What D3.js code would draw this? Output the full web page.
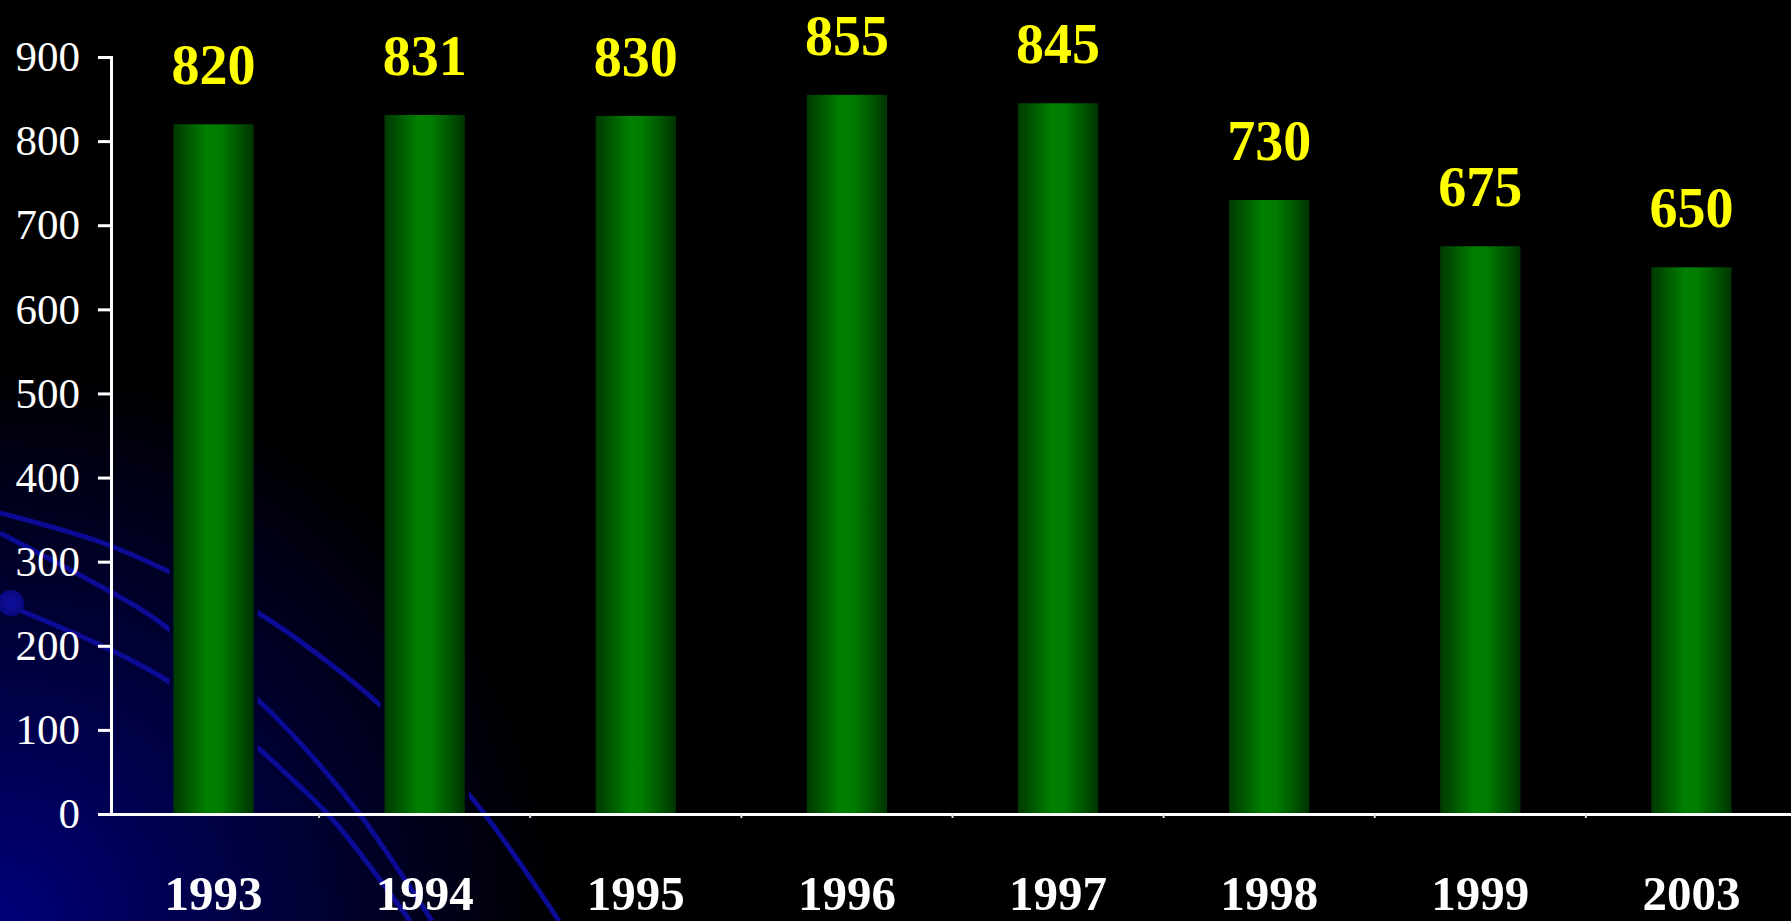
<!DOCTYPE html>
<html>
<head>
<meta charset="utf-8">
<script src="https://cdn.jsdelivr.net/npm/d3@7"></script>
<style>
  body { margin: 0; background: #000; overflow: hidden; }
  svg { display: block; }
</style>
</head>
<body>
<div id="chart"></div>
<script>
//chart data
const years = ["1993", "1994", "1995", "1996", "1997", "1998", "1999", "2003"];
const values = [820, 831, 830, 855, 845, 730, 675, 650];
const yTicks = [0, 100, 200, 300, 400, 500, 600, 700, 800, 900];

//background decoration (slide swooshes)
const swooshes = [
  [[0, 513], [103, 543], [170, 572], [258, 613], [329, 663], [380, 705], [471, 797], [559, 921]],
  [[0, 533], [142, 610], [170, 630], [258, 700], [318, 763], [364, 820], [432, 921]],
  [[19, 610], [96, 643], [153, 672], [214, 712], [258, 748], [279, 767], [333, 820], [410, 921]]
];

const width = 1791;
const height = 921;

const svg = d3.select("#chart")
  .append("svg")
  .attr("width", width)
  .attr("height", height);

const defs = svg.append("defs");

//scales
const x = d3.scaleBand()
  .domain(years)
  .range([108, 1797])
  .paddingInner(0.62)
  .paddingOuter(0.31);

const y = d3.scaleLinear()
  .domain([0, 900])
  .range([814, 57]);

//blue glow bottom-left
const glow = defs.append("radialGradient")
  .attr("id", "glow")
  .attr("gradientUnits", "userSpaceOnUse")
  .attr("cx", 0).attr("cy", height).attr("r", 560);
glow.append("stop").attr("offset", 0).attr("stop-color", "#00007a");
glow.append("stop").attr("offset", 0.45).attr("stop-color", "#000040");
glow.append("stop").attr("offset", 1).attr("stop-color", "#000000");

//bar shading
const barGrad = defs.append("linearGradient")
  .attr("id", "bar")
  .attr("x1", "0%").attr("x2", "100%");
[[0, "#003a00"], [0.12, "#004c00"], [0.28, "#006800"], [0.42, "#008000"],
 [0.58, "#007c00"], [0.75, "#006000"], [0.9, "#004600"], [1, "#003300"]]
  .forEach(s => barGrad.append("stop").attr("offset", s[0]).attr("stop-color", s[1]));

const dotGrad = defs.append("radialGradient").attr("id", "dot");
dotGrad.append("stop").attr("offset", 0).attr("stop-color", "#1010a0");
dotGrad.append("stop").attr("offset", 1).attr("stop-color", "#080880");

//swooshes stop a little short of each bar
const mask = defs.append("mask")
  .attr("id", "gap")
  .attr("maskUnits", "userSpaceOnUse")
  .attr("x", 0).attr("y", 0).attr("width", width).attr("height", height);
mask.append("rect").attr("width", width).attr("height", height).attr("fill", "#fff");
mask.selectAll("rect.gap")
  .data(values)
  .join("rect")
  .attr("class", "gap")
  .attr("x", (d, i) => x(years[i]) - 4)
  .attr("y", d => y(d) - 4)
  .attr("width", x.bandwidth() + 8)
  .attr("height", d => y(0) - y(d) + 4)
  .attr("fill", "#000");

svg.append("rect")
  .attr("width", width).attr("height", height)
  .attr("fill", "url(#glow)");

const swoosh = d3.line().curve(d3.curveCatmullRom);
svg.append("g")
  .attr("mask", "url(#gap)")
  .selectAll("path")
  .data(swooshes)
  .join("path")
  .attr("d", swoosh)
  .attr("fill", "none")
  .attr("stroke", "#0b0b96")
  .attr("stroke-width", 5);

svg.append("circle")
  .attr("cx", 11).attr("cy", 603).attr("r", 13)
  .attr("fill", "url(#dot)");

//bars
svg.append("g")
  .selectAll("rect")
  .data(values)
  .join("rect")
  .attr("x", (d, i) => x(years[i]))
  .attr("y", d => y(d))
  .attr("width", x.bandwidth())
  .attr("height", d => y(0) - y(d))
  .attr("fill", "url(#bar)");

//value labels
svg.append("g")
  .selectAll("text")
  .data(values)
  .join("text")
  .attr("x", (d, i) => x(years[i]) + x.bandwidth() / 2)
  .attr("y", d => y(d) - 40)
  .attr("text-anchor", "middle")
  .attr("fill", "#ffff00")
  .style("font", "bold 56px 'Liberation Serif', 'Times New Roman', serif")
  .text(d => d);

//y axis
const yAxis = d3.axisLeft(y)
  .tickValues(yTicks)
  .tickSize(13)
  .tickPadding(18);

const gy = svg.append("g")
  .attr("transform", "translate(111, 0)")
  .call(yAxis);
gy.select(".domain").attr("stroke", "#fff").attr("stroke-width", 3);
gy.selectAll(".tick line").attr("stroke", "#fff").attr("stroke-width", 3);
gy.selectAll(".tick text")
  .attr("fill", "#fff")
  .style("font", "43px 'Liberation Serif', 'Times New Roman', serif");

//x axis
const xAxis = d3.axisBottom(x)
  .tickSize(0)
  .tickPadding(0);

const gx = svg.append("g")
  .attr("transform", `translate(0, ${y(0)})`)
  .call(xAxis);
gx.select(".domain").attr("stroke", "#fff").attr("stroke-width", 3);
gx.selectAll(".tick text")
  .attr("y", 96)
  .attr("dy", 0)
  .attr("fill", "#fff")
  .style("font", "bold 49px 'Liberation Serif', 'Times New Roman', serif");

//category boundary ticks
gx.append("g")
  .selectAll("line")
  .data(years.slice(1))
  .join("line")
  .attr("x1", d => x(d) - x.step() * x.paddingInner() / 2)
  .attr("x2", d => x(d) - x.step() * x.paddingInner() / 2)
  .attr("y1", 0)
  .attr("y2", 4)
  .attr("stroke", "#ddd")
  .attr("stroke-width", 2);
</script>
</body>
</html>
